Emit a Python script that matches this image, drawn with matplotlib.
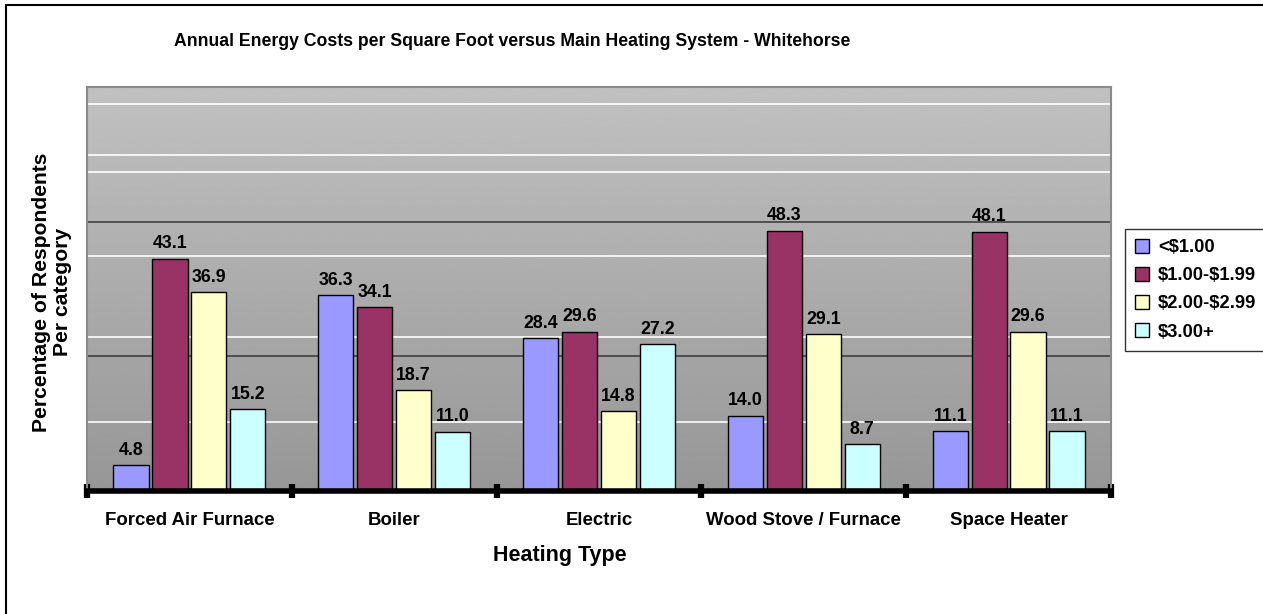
import numpy as np
import matplotlib
matplotlib.use("Agg")
import matplotlib.pyplot as plt
from matplotlib.patches import Rectangle

plt.rcParams['font.family'] = ['Liberation Sans', 'DejaVu Sans']
plt.rcParams['font.weight'] = 'bold'

categories = ["Forced Air Furnace", "Boiler", "Electric", "Wood Stove / Furnace", "Space Heater"]
series_names = ["<\\$1.00", "\\$1.00-\\$1.99", "\\$2.00-\\$2.99", "\\$3.00+"]
under_1 = [4.8, 36.3, 28.4, 14.0, 11.1]
from_1_to_2 = [43.1, 34.1, 29.6, 48.3, 48.1]
from_2_to_3 = [36.9, 18.7, 14.8, 29.1, 29.6]
over_3 = [15.2, 11.0, 27.2, 8.7, 11.1]
colors = ["#9999FF", "#993366", "#FFFFCC", "#CCFFFF"]

W, H = 1263, 614
fig = plt.figure(figsize=(W / 100, H / 100), dpi=100)

# outer chart border (runs off the right and bottom edges)
fig.patches.append(Rectangle((6 / W, -0.1), 1.2, 1.1 - 5 / H, transform=fig.transFigure,
                             fill=False, edgecolor="black", linewidth=1.5))

ax = fig.add_axes([87 / W, (H - 491) / H, (1111 - 87) / W, (491 - 87) / H])

# grey gradient backdrop, darker towards the bottom
grad = np.linspace(0.59, 0.755, 256).reshape(-1, 1)
ax.imshow(grad, cmap="gray", vmin=0, vmax=1, extent=[-0.5, 4.5, 0, 75], origin="lower",
          aspect="auto", zorder=0, interpolation="bilinear")
ax.set_xlim(-0.5, 4.5)
ax.set_ylim(0, 75)

for y in [12.8, 28.5, 43.7, 59.3, 62.4, 71.8]:
    ax.axhline(y, color="white", linewidth=1.2, zorder=1)
for y in [25, 50]:
    ax.axhline(y, color="#404040", linewidth=1.2, zorder=1)

series = [under_1, from_1_to_2, from_2_to_3, over_3]
x = np.arange(len(categories))
step = 0.19
width = 0.172
for i, (vals, name, col) in enumerate(zip(series, series_names, colors)):
    xs = x + (i - 1.5) * step
    ax.bar(xs, vals, width=width, color=col, edgecolor="black", linewidth=1.0,
           label=name, zorder=3)
    for xi, v in zip(xs, vals):
        ax.text(xi, v + 1.2, f"{v:.1f}", ha="center", va="bottom",
                fontsize=12.8, fontweight="bold", zorder=4)

ax.set_yticks([])
ax.set_xticks(np.arange(-0.5, 5.0, 1.0))
ax.set_xticklabels([])
ax.tick_params(axis="x", direction="inout", length=10, width=4.5, color="black")
for i, c in enumerate(categories):
    ax.text(i, -5.5, c, ha="center", va="center", fontsize=13.4, fontweight="bold")

ax.spines["bottom"].set_linewidth(4)
ax.spines["bottom"].set_color("black")
ax.spines["bottom"].set_zorder(5)
for s in ["left", "top", "right"]:
    ax.spines[s].set_color("#8a8a8a")
    ax.spines[s].set_linewidth(1.5)

fig.text(512 / W, 1 - 41 / H,
         "Annual Energy Costs per Square Foot versus Main Heating System - Whitehorse",
         ha="center", va="center", fontsize=12.7, fontweight="bold")
fig.text(560 / W, 1 - 555 / H, "Heating Type", ha="center", va="center",
         fontsize=15.5, fontweight="bold")
fig.text(52 / W, 1 - 292 / H, "Percentage of Respondents\nPer category", ha="center",
         va="center", rotation=90, fontsize=15.2, fontweight="bold", linespacing=1.12)

leg = fig.legend(loc="upper left", bbox_to_anchor=(1125 / W, 1 - 229 / H),
                 frameon=True, fancybox=False, edgecolor="black",
                 prop={"weight": "bold", "size": 13.2}, handlelength=0.75,
                 handleheight=0.75, handletextpad=0.5, labelspacing=0.6,
                 borderpad=0.55, borderaxespad=0)
leg.get_frame().set_linewidth(1.0)

fig.savefig("out.png", dpi=100)
